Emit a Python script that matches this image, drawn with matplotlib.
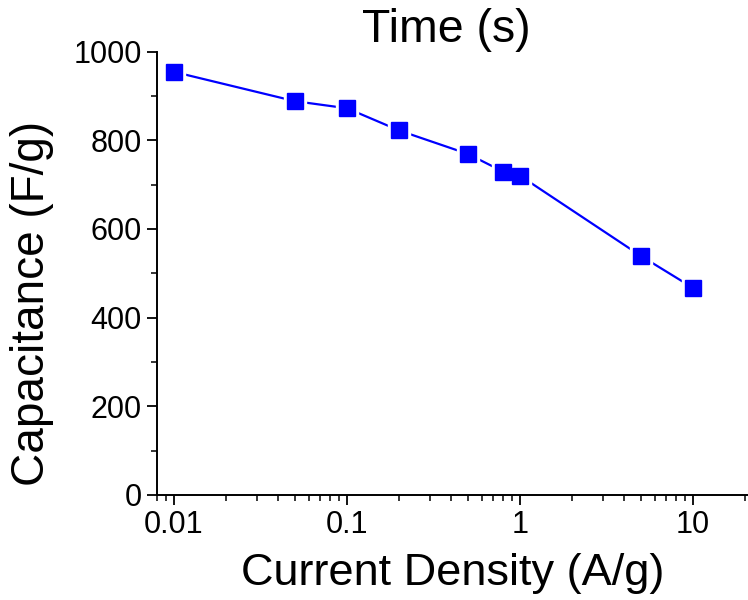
import matplotlib
matplotlib.use("Agg")
import matplotlib.pyplot as plt
from matplotlib.ticker import MultipleLocator, LogLocator, NullFormatter, FixedLocator, FixedFormatter

plt.rcParams['font.family'] = ['Liberation Sans', 'DejaVu Sans']

current_density = [0.01, 0.05, 0.1, 0.2, 0.5, 0.8, 1, 5, 10]
capacitance = [954, 888, 872, 822, 769, 729, 720, 539, 467]
xtick_vals = [0.01, 0.1, 1, 10]
xtick_labels = ['0.01', '0.1', '1', '10']

fig = plt.figure(figsize=(7.48, 6.0), dpi=100)
ax = fig.add_axes([157/748, 1-495/600, (748-157)/748, (495-51.5)/600])

ax.plot(current_density, capacitance, color='#0000ff', lw=1.6, zorder=2)
ax.plot(current_density, capacitance, ls='none', marker='s', ms=16.5, color='white', mec='white', zorder=3)
ax.plot(current_density, capacitance, ls='none', marker='s', ms=11, color='#0000ff', mec='#0000ff', zorder=4)

ax.set_xscale('log')
ax.set_xlim(0.00797, 20.8)
ax.set_ylim(0, 1000)

ax.xaxis.set_major_locator(FixedLocator(xtick_vals))
ax.xaxis.set_major_formatter(FixedFormatter(xtick_labels))
ax.xaxis.set_minor_locator(LogLocator(base=10, subs=range(2, 10), numticks=20))
ax.xaxis.set_minor_formatter(NullFormatter())
ax.yaxis.set_major_locator(MultipleLocator(200))
ax.yaxis.set_minor_locator(MultipleLocator(100))

for s in ['top', 'right']:
    ax.spines[s].set_visible(False)
for s in ['left', 'bottom']:
    ax.spines[s].set_linewidth(1.4)

ax.tick_params(which='major', direction='out', length=7, width=1.3, labelsize=22, pad=4)
ax.tick_params(which='minor', direction='out', length=4, width=1.1)

ax.set_xlabel('Current Density (A/g)', fontsize=32.5, labelpad=9)
ax.set_ylabel('Capacitance (F/g)', fontsize=33, labelpad=14)
ax.yaxis.label.set_y(0.431)
ax.set_title('Time (s)', fontsize=33.5, pad=-2, x=0.49)

fig.savefig('out.png', dpi=100)
